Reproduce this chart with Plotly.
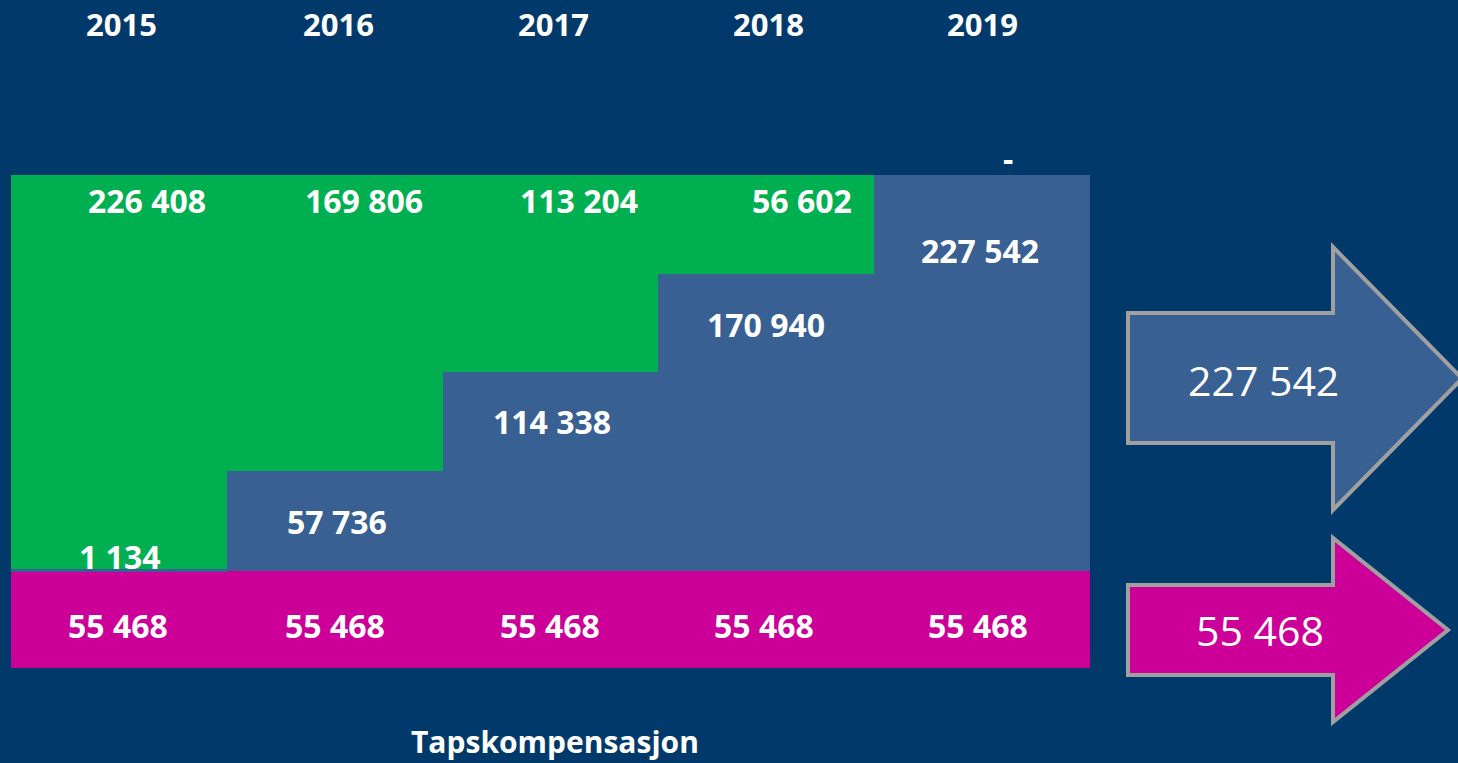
import plotly.graph_objects as go

# ---- data ----
years = ["2015", "2016", "2017", "2018", "2019"]
magenta_vals = [55468, 55468, 55468, 55468, 55468]
blue_vals = [1134, 57736, 114338, 170940, 227542]
green_vals = [226408, 169806, 113204, 56602, 0]
axis_title = "Tapskompensasjon"

# ---- style ----
BG = "#013a6a"
C_MAG = "#cc0099"
C_BLUE = "#386093"
C_GREEN = "#00b050"
C_GRAY = "#a0a0a0"
FONT = "Open Sans"

W, H = 1458, 763
L, R, T, B = 11, 368, 175, 95
PW, PH = W - L - R, H - T - B


def px(x):
    return (x - L) / PW


def py(y):
    return (H - B - y) / PH


def fmt(v):
    return f"{v:,}".replace(",", " ") if v else "-"


fig = go.Figure()
fig.add_bar(x=years, y=magenta_vals, marker=dict(color=C_MAG, line=dict(width=0)), name="m")
fig.add_bar(x=years, y=blue_vals, marker=dict(color=C_BLUE, line=dict(width=0)), name="b")
fig.add_bar(x=years, y=green_vals, marker=dict(color=C_GREEN, line=dict(width=0)), name="g")

ann = []
bold_year = dict(family=FONT, size=31, color="white", weight="bold")
bold = dict(family=FONT, size=32, color="white", weight="bold")
blue_shift = [13, -51, -49, -51, -75]
col_shift = [3, 4, 3, 2, 0]
for i, yr in enumerate(years):
    m, b, g = magenta_vals[i], blue_vals[i], green_vals[i]
    cs = col_shift[i]
    # year labels
    ann.append(dict(x=i, xref="x", y=py(24), yref="paper", text=yr, showarrow=False,
                    font=bold_year, xanchor="center", yanchor="middle", xshift=cs))
    # magenta label
    ann.append(dict(x=i, y=m / 2, text=fmt(m), showarrow=False, font=bold,
                    xanchor="center", yanchor="middle", xshift=cs - 4, yshift=-6))
    # blue label
    ann.append(dict(x=i, y=m + b, text=fmt(b), showarrow=False, font=bold,
                    xanchor="center", yanchor="middle", xshift=cs - 2, yshift=blue_shift[i]))
    # green label
    if g:
        ann.append(dict(x=i, y=m + b + g, text=fmt(g), showarrow=False, font=bold,
                        xanchor="right", yanchor="middle", xshift=cs + 86, yshift=-25))
    else:
        ann.append(dict(x=i, y=m + b + g, text=fmt(g), showarrow=False, font=bold,
                        xanchor="center", yanchor="middle", xshift=cs + 26, yshift=17))

ann.append(dict(x=px(555), y=py(741), xref="paper", yref="paper", text=axis_title,
                showarrow=False, font=dict(family=FONT, size=30, color="white", weight="bold"),
                xanchor="center", yanchor="middle"))

# arrows on the right
shapes = []


def arrow(x0, xb, xt, ytop_b, ybot_b, ytop_h, ybot_h, fill):
    ym = (ytop_h + ybot_h) / 2
    pts = [(x0, ytop_b), (xb, ytop_b), (xb, ytop_h), (xt, ym), (xb, ybot_h), (xb, ybot_b), (x0, ybot_b)]
    path = "M " + " L ".join(f"{px(a):.5f},{py(c):.5f}" for a, c in pts) + " Z"
    return dict(type="path", path=path, xref="paper", yref="paper", fillcolor=fill,
                line=dict(color=C_GRAY, width=4), layer="above")


shapes.append(arrow(1128, 1333, 1462, 313, 443, 247, 510, C_BLUE))
shapes.append(arrow(1128, 1333, 1448, 585, 675, 538, 722, C_MAG))

reg = dict(family=FONT, size=41, color="white")
ann.append(dict(x=px(1263), y=py(380), xref="paper", yref="paper", text=fmt(blue_vals[-1]),
                showarrow=False, font=reg, xanchor="center", yanchor="middle"))
ann.append(dict(x=px(1260), y=py(630), xref="paper", yref="paper", text=fmt(magenta_vals[-1]),
                showarrow=False, font=reg, xanchor="center", yanchor="middle"))

fig.update_layout(
    barmode="stack", bargap=0, width=W, height=H,
    margin=dict(l=L, r=R, t=T, b=B, pad=0),
    paper_bgcolor=BG, plot_bgcolor=BG, showlegend=False,
    xaxis=dict(type="category", visible=False, showgrid=False, zeroline=False,
               range=[-0.5, len(years) - 0.5]),
    yaxis=dict(visible=False, showgrid=False, zeroline=False,
               range=[0, sum([magenta_vals[0], blue_vals[0], green_vals[0]])]),
    annotations=ann, shapes=shapes,
    font=dict(family=FONT, color="white"),
)

fig.write_html(
    "out.html",
    config=dict(displayModeBar=False),
    post_script="document.body.style.margin='0';document.body.style.background='%s';" % BG,
)
